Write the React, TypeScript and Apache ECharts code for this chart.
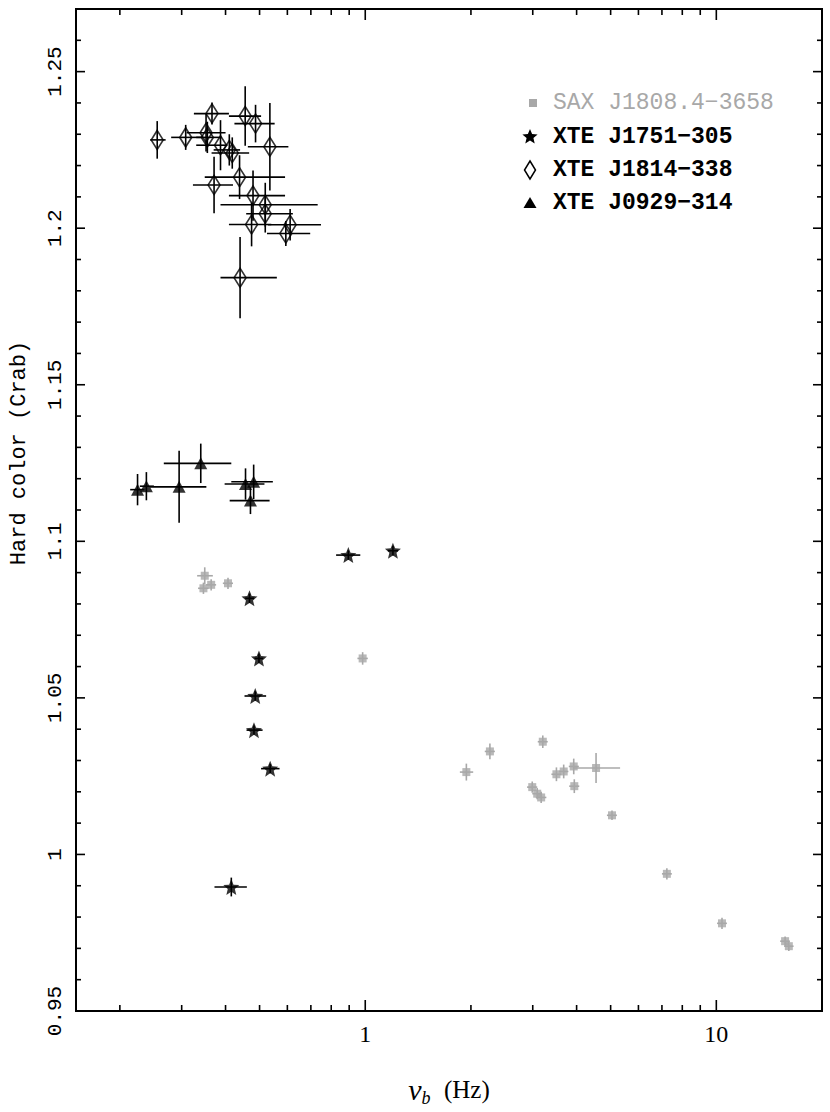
import React, { useEffect, useRef } from 'react';
import * as echarts from 'echarts';

// Each point: [nu (Hz), nuLo, nuHi, hard colour (Crab), hard colour error]
const saxJ1808: number[][] = [
  [0.349, 0.332, 0.368, 1.0890, 0.0027],
  [0.346, 0.334, 0.358, 1.0850, 0.0018],
  [0.364, 0.352, 0.376, 1.0861, 0.0018],
  [0.4065, 0.393, 0.420, 1.0866, 0.0018],
  [0.983, 0.950, 1.017, 1.0626, 0.0020],
  [1.941, 1.860, 2.030, 1.0263, 0.0027],
  [2.265, 2.190, 2.340, 1.0329, 0.0025],
  [3.204, 3.100, 3.310, 1.0360, 0.0020],
  [2.990, 2.890, 3.090, 1.0215, 0.0018],
  [3.089, 2.990, 3.190, 1.0194, 0.0018],
  [3.170, 3.060, 3.280, 1.0182, 0.0018],
  [3.504, 3.390, 3.620, 1.0256, 0.0022],
  [3.675, 3.560, 3.790, 1.0265, 0.0022],
  [3.925, 3.800, 4.060, 1.0281, 0.0025],
  [4.544, 3.925, 5.320, 1.0276, 0.0048],
  [3.940, 3.810, 4.070, 1.0218, 0.0022],
  [5.045, 4.880, 5.210, 1.0125, 0.0015],
  [7.230, 7.000, 7.470, 0.9938, 0.0018],
  [10.38, 10.05, 10.72, 0.9780, 0.0018],
  [15.70, 15.20, 16.20, 0.9723, 0.0015],
  [16.09, 15.60, 16.60, 0.9707, 0.0015],
];

const xteJ1751: number[][] = [
  [0.895, 0.826, 0.968, 1.0956, 0.0015],
  [1.199, 1.160, 1.240, 1.0970, 0.0015],
  [0.468, 0.455, 0.482, 1.0818, 0.0015],
  [0.498, 0.484, 0.512, 1.0626, 0.0015],
  [0.486, 0.453, 0.522, 1.0506, 0.0015],
  [0.482, 0.459, 0.510, 1.0397, 0.0015],
  [0.536, 0.505, 0.570, 1.0274, 0.0015],
  [0.4154, 0.372, 0.460, 0.9896, 0.0030],
];

const xteJ1814: number[][] = [
  [0.2555, 0.244, 0.270, 1.2282, 0.0060],
  [0.308, 0.280, 0.345, 1.2290, 0.0040],
  [0.352, 0.310, 0.400, 1.2305, 0.0060],
  [0.355, 0.330, 0.390, 1.2290, 0.0050],
  [0.366, 0.325, 0.409, 1.2366, 0.0035],
  [0.387, 0.330, 0.405, 1.2265, 0.0080],
  [0.410, 0.370, 0.440, 1.2250, 0.0050],
  [0.418, 0.365, 0.467, 1.2240, 0.0050],
  [0.371, 0.323, 0.420, 1.2138, 0.0090],
  [0.4385, 0.349, 0.591, 1.2163, 0.0070],
  [0.455, 0.409, 0.505, 1.2358, 0.0095],
  [0.487, 0.424, 0.552, 1.2334, 0.0060],
  [0.535, 0.463, 0.604, 1.2260, 0.0140],
  [0.479, 0.409, 0.591, 1.2104, 0.0080],
  [0.519, 0.387, 0.732, 1.2075, 0.0070],
  [0.519, 0.458, 0.622, 1.2046, 0.0060],
  [0.4745, 0.409, 0.540, 1.2012, 0.0070],
  [0.611, 0.528, 0.748, 1.2011, 0.0050],
  [0.594, 0.525, 0.697, 1.1983, 0.0040],
  [0.440, 0.387, 0.560, 1.1842, 0.0130],
];

const xteJ0929: number[][] = [
  [0.2246, 0.214, 0.235, 1.1165, 0.0050],
  [0.238, 0.228, 0.250, 1.1176, 0.0045],
  [0.295, 0.2434, 0.3527, 1.1174, 0.0115],
  [0.340, 0.2668, 0.4154, 1.1249, 0.0063],
  [0.456, 0.3976, 0.5163, 1.1183, 0.0050],
  [0.481, 0.4154, 0.5455, 1.1190, 0.0055],
  [0.471, 0.411, 0.534, 1.1130, 0.0043],
];

const seriesNames = [
  'SAX J1808.4\u22123658',
  'XTE J1751\u2212305',
  'XTE J1814\u2212338',
  'XTE J0929\u2212314',
];

const yMajorTicks = [0.95, 1.0, 1.05, 1.1, 1.15, 1.2, 1.25];
const yMinorTicks = [
  0.96, 0.97, 0.98, 0.99, 1.01, 1.02, 1.03, 1.04, 1.06, 1.07, 1.08, 1.09,
  1.11, 1.12, 1.13, 1.14, 1.16, 1.17, 1.18, 1.19, 1.21, 1.22, 1.23, 1.24, 1.26,
];
const xMajorTicks = [1, 10];
const xMinorTicks = [0.2, 0.3, 0.4, 0.5, 0.6, 0.7, 0.8, 0.9, 2, 3, 4, 5, 6, 7, 8, 9];

const GRAY = '#a8a8a8';
const MONO = '"Liberation Mono", "Courier New", monospace';
const SERIF = '"Liberation Serif", "Times New Roman", serif';

const STAR_PATH =
  'path://M0,-10L2.6,-3.6L9.5,-3.1L4.2,1.4L5.9,8.1L0,4.4L-5.9,8.1L-4.2,1.4L-9.5,-3.1L-2.6,-3.6Z';

function starPoints(cx: number, cy: number, rOut: number, rIn: number): number[][] {
  const pts: number[][] = [];
  for (let i = 0; i < 10; i++) {
    const a = -Math.PI / 2 + (i * Math.PI) / 5;
    const r = i % 2 === 0 ? rOut : rIn;
    pts.push([cx + r * Math.cos(a), cy + r * Math.sin(a)]);
  }
  return pts;
}

function errorBars(name: string, data: number[][], color: string) {
  return {
    type: 'custom',
    name: name + ' error bars',
    coordinateSystem: 'cartesian2d',
    silent: true,
    z: 2,
    encode: { x: 0, y: 3 },
    data,
    renderItem: (_params: any, api: any) => {
      const nu = api.value(0);
      const lo = api.value(1);
      const hi = api.value(2);
      const h = api.value(3);
      const e = api.value(4);
      const c = api.coord([nu, h]);
      const l = api.coord([lo, h]);
      const r = api.coord([hi, h]);
      const t = api.coord([nu, h + e]);
      const b = api.coord([nu, h - e]);
      const style = { stroke: color, lineWidth: 1.6 };
      return {
        type: 'group',
        children: [
          { type: 'line', shape: { x1: l[0], y1: c[1], x2: r[0], y2: c[1] }, style },
          { type: 'line', shape: { x1: c[0], y1: t[1], x2: c[0], y2: b[1] }, style },
        ],
      };
    },
  };
}

export default function App() {
  const ref = useRef<HTMLDivElement>(null);

  useEffect(() => {
    if (!ref.current) return;
    const chart = echarts.init(ref.current, undefined, { renderer: 'svg' });

    const tickData: number[][] = [
      ...yMajorTicks.map((v) => [1, v, 0, 1]),
      ...yMinorTicks.map((v) => [1, v, 0, 0]),
      ...xMajorTicks.map((v) => [v, 1, 1, 1]),
      ...xMinorTicks.map((v) => [v, 1, 1, 0]),
    ];

    const legendX = 530;
    const legendTextX = 553;
    const legendRows = [103, 137, 170, 203];

    const option: any = {
      animation: false,
      backgroundColor: '#fff',
      grid: {
        left: 74,
        top: 9,
        width: 748,
        height: 1008,
        show: true,
        borderColor: '#000',
        borderWidth: 2,
        backgroundColor: 'transparent',
      },
      xAxis: {
        type: 'log',
        logBase: 10,
        min: 0.15,
        max: 20,
        axisLine: { show: false },
        axisTick: { show: false },
        splitLine: { show: false },
        axisLabel: {
          margin: 11,
          fontFamily: SERIF,
          fontSize: 24,
          color: '#000',
          showMinLabel: false,
          showMaxLabel: false,
          formatter: (v: number) => {
            const l = Math.log10(v);
            return Math.abs(l - Math.round(l)) < 1e-6 ? String(Math.round(v)) : '';
          },
        },
        name: '{nu|\u03bd}{sub|b}    {hz|(Hz)}',
        nameLocation: 'middle',
        nameGap: 60,
        nameTextStyle: {
          rich: {
            nu: { fontFamily: SERIF, fontStyle: 'italic', fontSize: 30, lineHeight: 36, color: '#000', verticalAlign: 'middle' },
            sub: { fontFamily: SERIF, fontStyle: 'italic', fontSize: 18, lineHeight: 36, color: '#000', verticalAlign: 'bottom' },
            hz: { fontFamily: SERIF, fontSize: 25, lineHeight: 36, color: '#000', verticalAlign: 'middle' },
          },
        },
      },
      yAxis: {
        type: 'value',
        min: 0.95,
        max: 1.27,
        interval: 0.05,
        axisLine: { show: false },
        axisTick: { show: false },
        splitLine: { show: false },
        axisLabel: {
          rotate: 90,
          margin: 10,
          fontFamily: MONO,
          fontSize: 21,
          color: '#000',
          showMaxLabel: false,
          formatter: (v: number) => (v > 1.26 ? '' : String(Number(v.toFixed(2)))),
        },
        name: 'Hard color (Crab)',
        nameLocation: 'middle',
        nameRotate: 90,
        nameGap: 46,
        nameTextStyle: {
          fontFamily: MONO,
          fontSize: 22,
          color: '#000',
          padding: [0, 0, 0, 114],
        },
      },
      series: [
        {
          type: 'custom',
          name: 'ticks',
          coordinateSystem: 'cartesian2d',
          silent: true,
          z: 5,
          encode: { x: 0, y: 1 },
          data: tickData,
          renderItem: (params: any, api: any) => {
            const cs = params.coordSys;
            const isX = api.value(2) === 1;
            const major = api.value(3) === 1;
            const style = { stroke: '#000', lineWidth: 1.6 };
            if (isX) {
              const x = api.coord([api.value(0), 1])[0];
              const len = major ? 11 : 6;
              return {
                type: 'group',
                children: [
                  { type: 'line', shape: { x1: x, y1: cs.y + cs.height, x2: x, y2: cs.y + cs.height - len }, style },
                  { type: 'line', shape: { x1: x, y1: cs.y, x2: x, y2: cs.y + len }, style },
                ],
              };
            }
            const y = api.coord([1, api.value(1)])[1];
            const len = major ? 9 : 5;
            return {
              type: 'group',
              children: [
                { type: 'line', shape: { x1: cs.x, y1: y, x2: cs.x + len, y2: y }, style },
                { type: 'line', shape: { x1: cs.x + cs.width, y1: y, x2: cs.x + cs.width - len, y2: y }, style },
              ],
            };
          },
        },
        errorBars(seriesNames[0], saxJ1808, GRAY),
        errorBars(seriesNames[1], xteJ1751, '#000'),
        errorBars(seriesNames[2], xteJ1814, '#000'),
        errorBars(seriesNames[3], xteJ0929, '#000'),
        {
          type: 'scatter',
          name: seriesNames[0],
          z: 3,
          symbol: 'rect',
          symbolSize: 8,
          itemStyle: { color: GRAY },
          data: saxJ1808.map((d) => [d[0], d[3]]),
        },
        {
          type: 'scatter',
          name: seriesNames[1],
          z: 3,
          symbol: STAR_PATH,
          symbolSize: 16,
          itemStyle: { color: '#000' },
          data: xteJ1751.map((d) => [d[0], d[3]]),
        },
        {
          type: 'scatter',
          name: seriesNames[2],
          z: 3,
          symbol: 'diamond',
          symbolSize: [12, 19],
          itemStyle: { color: 'rgba(0,0,0,0)', borderColor: '#000', borderWidth: 1.7 },
          data: xteJ1814.map((d) => [d[0], d[3]]),
        },
        {
          type: 'scatter',
          name: seriesNames[3],
          z: 3,
          symbol: 'triangle',
          symbolSize: [13, 12],
          itemStyle: { color: '#000' },
          data: xteJ0929.map((d) => [d[0], d[3]]),
        },
      ],
      graphic: [
        {
          type: 'rect',
          shape: { x: legendX + 3 - 4, y: legendRows[0] - 4, width: 8, height: 8 },
          style: { fill: GRAY },
        },
        {
          type: 'polygon',
          shape: { points: starPoints(legendX, legendRows[1], 8, 3.6) },
          style: { fill: '#000' },
        },
        {
          type: 'polygon',
          shape: {
            points: [
              [legendX, legendRows[2] - 9],
              [legendX + 5.5, legendRows[2]],
              [legendX, legendRows[2] + 9],
              [legendX - 5.5, legendRows[2]],
            ],
          },
          style: { fill: 'none', stroke: '#000', lineWidth: 1.5 },
        },
        {
          type: 'polygon',
          shape: {
            points: [
              [legendX, legendRows[3] - 6],
              [legendX + 6.5, legendRows[3] + 5],
              [legendX - 6.5, legendRows[3] + 5],
            ],
          },
          style: { fill: '#000' },
        },
        ...seriesNames.map((n, i) => ({
          type: 'text',
          x: legendTextX,
          y: legendRows[i],
          style: {
            text: n,
            fontFamily: MONO,
            fontSize: 23,
            fontWeight: i === 0 ? 'normal' : 'bold',
            fill: i === 0 ? GRAY : '#000',
            align: 'left',
            verticalAlign: 'middle',
          },
        })),
      ],
    };

    chart.setOption(option);
    return () => {
      chart.dispose();
    };
  }, []);

  return (
    <div
      ref={ref}
      style={{ position: 'fixed', left: 0, top: 0, width: 830, height: 1112, background: '#fff' }}
    />
  );
}
